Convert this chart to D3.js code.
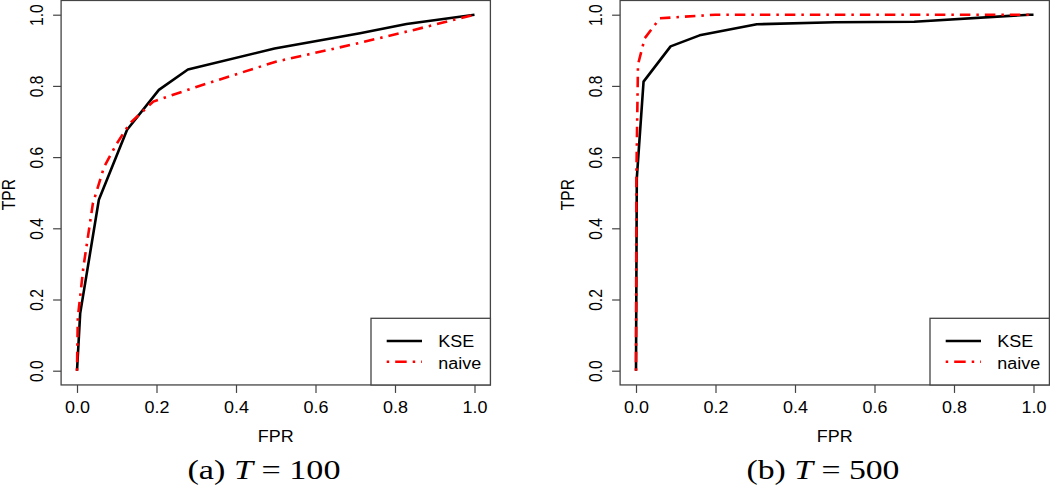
<!DOCTYPE html>
<html>
<head>
<meta charset="utf-8">
<script src="https://cdn.jsdelivr.net/npm/d3@7"></script>
<style>
  html, body { margin: 0; padding: 0; background: #fff; }
  svg { display: block; }
</style>
</head>
<body>
<svg id="chart" width="1050" height="485"></svg>
<script>
// ---------------- data ----------------
const tickValues = [0, 0.2, 0.4, 0.6, 0.8, 1.0];
const tickLabels = ["0.0", "0.2", "0.4", "0.6", "0.8", "1.0"];
const seriesNames = ["KSE", "naive"];
const xLabel = "FPR";
const yLabel = "TPR";

// panel (a) T = 100
const aKSE_fpr   = [0, 0.008, 0.055, 0.126, 0.206, 0.279, 0.497, 0.712, 0.829, 1.0];
const aKSE_tpr   = [0, 0.161, 0.480, 0.677, 0.789, 0.846, 0.905, 0.948, 0.974, 1.0];
const aNaive_fpr = [0, 0.002, 0.016, 0.040, 0.068, 0.100, 0.133, 0.192, 0.300, 0.500, 0.700, 0.850, 1.0];
const aNaive_tpr = [0, 0.148, 0.290, 0.470, 0.572, 0.638, 0.695, 0.756, 0.797, 0.868, 0.918, 0.958, 1.0];

// panel (b) T = 500
const bKSE_fpr   = [0, 0.002, 0.019, 0.087, 0.160, 0.304, 0.500, 0.700, 0.990, 1.0];
const bKSE_tpr   = [0, 0.540, 0.812, 0.911, 0.942, 0.973, 0.979, 0.980, 1.0, 1.0];
const bNaive_fpr = [0, 0.001, 0.005, 0.022, 0.060, 0.200, 1.0];
const bNaive_tpr = [0, 0.550, 0.860, 0.934, 0.990, 1.0, 1.0];

const captionLetters = ["(a) ", "(b) "];
const captionValues = ["100", "500"];

// ---------------- drawing ----------------
const svg = d3.select("#chart");
const SX = 1.15;               // horizontal stretch of the reference picture
const boxColor = "#444";
const sansFont = "Liberation Sans, Arial, sans-serif";
const serifFont = "Liberation Serif, Times New Roman, serif";

const x = d3.scaleLinear().domain([0, 1]).range([77, 474.5]);
const y = d3.scaleLinear().domain([0, 1]).range([370.7, 14.7]);

const boxL = x(-0.04), boxR = x(1.04), boxT = y(1.04), boxB = y(-0.04);

const line = d3.line().x(d => x(d[0])).y(d => y(d[1]));
const zip = (a, b) => a.map((v, i) => [v, b[i]]);

const panels = [
  { dx: 0,   kse: zip(aKSE_fpr, aKSE_tpr), naive: zip(aNaive_fpr, aNaive_tpr), letter: captionLetters[0], val: captionValues[0] },
  { dx: 559, kse: zip(bKSE_fpr, bKSE_tpr), naive: zip(bNaive_fpr, bNaive_tpr), letter: captionLetters[1], val: captionValues[1] }
];

const dashPattern = "2.5,6,10.5,6";

panels.forEach(p => {
  const g = svg.append("g").attr("transform", `translate(${p.dx},0)`);

  // x axis
  const xa = g.append("g").attr("transform", `translate(0,${boxB})`)
    .call(d3.axisBottom(x).tickValues(tickValues).tickSize(8)
      .tickFormat((d, i) => tickLabels[i]));
  xa.select(".domain").remove();
  xa.selectAll(".tick line").attr("stroke", boxColor).attr("stroke-width", 1.2);
  xa.selectAll(".tick text")
    .attr("y", null).attr("dy", null)
    .attr("text-anchor", "middle")
    .attr("transform", `translate(0,27.6) scale(${SX},1)`)
    .attr("font-family", sansFont).attr("font-size", 15.6).attr("fill", "#000");

  // y axis
  const ya = g.append("g").attr("transform", `translate(${boxL},0)`)
    .call(d3.axisLeft(y).tickValues(tickValues).tickSize(8)
      .tickFormat((d, i) => tickLabels[i]));
  ya.select(".domain").remove();
  ya.selectAll(".tick line").attr("stroke", boxColor).attr("stroke-width", 1.2);
  ya.selectAll(".tick text")
    .attr("x", null).attr("dy", null)
    .attr("text-anchor", "middle")
    .attr("transform", `translate(-17.8,0) scale(${SX},1) rotate(-90)`)
    .attr("font-family", sansFont).attr("font-size", 15.6).attr("fill", "#000");

  // axis titles
  g.append("text")
    .attr("transform", `translate(${(boxL + boxR) / 2},441.8) scale(${SX},1)`)
    .attr("text-anchor", "middle")
    .attr("font-family", sansFont).attr("font-size", 15.6)
    .text(xLabel);
  g.append("text")
    .attr("transform", `translate(15,${(boxT + boxB) / 2 + 2}) scale(${SX},1) rotate(-90)`)
    .attr("text-anchor", "middle")
    .attr("font-family", sansFont).attr("font-size", 15.6)
    .text(yLabel);

  // curves
  g.append("path").datum(p.kse)
    .attr("d", line).attr("fill", "none")
    .attr("stroke", "#000").attr("stroke-width", 2.6)
    .attr("stroke-linejoin", "round");
  g.append("path").datum(p.naive)
    .attr("d", line).attr("fill", "none")
    .attr("stroke", "#ff0000").attr("stroke-width", 2.6)
    .attr("stroke-dasharray", dashPattern);

  // plot box
  g.append("rect")
    .attr("x", boxL).attr("y", boxT)
    .attr("width", boxR - boxL).attr("height", boxB - boxT)
    .attr("fill", "none").attr("stroke", boxColor).attr("stroke-width", 1.3);

  // legend
  const lgL = boxR - 119.4, lgT = 318.3;
  const lg = g.append("g");
  lg.append("rect")
    .attr("x", lgL).attr("y", lgT)
    .attr("width", boxR - lgL).attr("height", boxB - lgT)
    .attr("fill", "#fff").attr("stroke", boxColor).attr("stroke-width", 1.3);
  const rows = [
    { name: seriesNames[0], color: "#000", dash: null, ly: 341, ty: 346.8 },
    { name: seriesNames[1], color: "#ff0000", dash: "2.5,6,11.5,6", ly: 361.7, ty: 368.8 }
  ];
  rows.forEach(r => {
    lg.append("line")
      .attr("x1", lgL + 15.7).attr("x2", lgL + 51)
      .attr("y1", r.ly).attr("y2", r.ly)
      .attr("stroke", r.color).attr("stroke-width", 2.6)
      .attr("stroke-dasharray", r.dash);
    lg.append("text")
      .attr("transform", `translate(${lgL + 67.3},${r.ty}) scale(${SX},1)`)
      .attr("font-family", sansFont).attr("font-size", 15.6)
      .text(r.name);
  });

  // caption
  const cap = g.append("text")
    .attr("x", 264).attr("y", 478.5)
    .attr("text-anchor", "middle")
    .attr("font-family", serifFont)
    .attr("font-weight", "normal")
    .attr("font-size", 27)
    .attr("textLength", 153).attr("lengthAdjust", "spacingAndGlyphs");
  cap.append("tspan").text(p.letter);
  cap.append("tspan").attr("font-style", "italic").text("T");
  cap.append("tspan").text(" = " + p.val);
});
</script>
</body>
</html>
